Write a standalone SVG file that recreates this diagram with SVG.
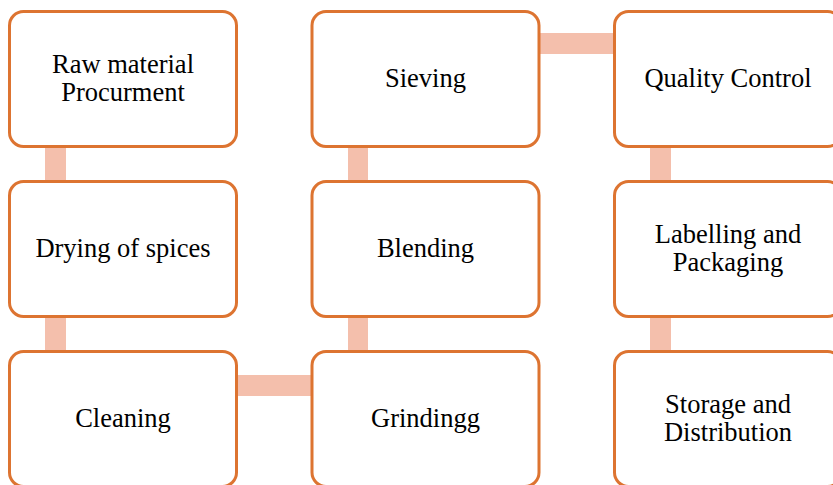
<svg xmlns="http://www.w3.org/2000/svg" width="833" height="485" viewBox="0 0 833 485">
<style>
.box{fill:#ffffff;stroke:#DD7431;stroke-width:3}
.conn{fill:#F4BFAC}
text{font-family:"Liberation Serif","Times New Roman",serif;font-size:26.5px;fill:#000;text-anchor:middle}
</style>
<rect width="833" height="485" fill="#ffffff"/>
<g id="connectors">
<rect class="conn" x="45" y="146" width="21" height="36"/>
<rect class="conn" x="45" y="316" width="21" height="36"/>
<rect class="conn" x="237" y="375" width="76" height="21"/>
<rect class="conn" x="348" y="316" width="20" height="36"/>
<rect class="conn" x="348" y="146" width="20" height="36"/>
<rect class="conn" x="539" y="33" width="76" height="21"/>
<rect class="conn" x="650" y="146" width="21" height="36"/>
<rect class="conn" x="650" y="316" width="21" height="36"/>
</g>
<g id="n1"><rect class="box" x="9.5" y="11.5" width="227" height="135" rx="14"/><text x="123" y="72.7">Raw material</text><text x="123" y="100.7">Procurment</text></g>
<g id="n2"><rect class="box" x="9.5" y="181.5" width="227" height="135" rx="14"/><text x="123" y="257.3">Drying of spices</text></g>
<g id="n3"><rect class="box" x="9.5" y="351.5" width="227" height="135" rx="14"/><text x="123" y="427.3">Cleaning</text></g>
<g id="n4"><rect class="box" x="312" y="351.5" width="227" height="135" rx="14"/><text x="425.5" y="427.3">Grindingg</text></g>
<g id="n5"><rect class="box" x="312" y="181.5" width="227" height="135" rx="14"/><text x="425.5" y="257.3">Blending</text></g>
<g id="n6"><rect class="box" x="312" y="11.5" width="227" height="135" rx="14"/><text x="425.5" y="87.3">Sieving</text></g>
<g id="n7"><rect class="box" x="614.5" y="11.5" width="227" height="135" rx="14"/><text x="728" y="87.3">Quality Control</text></g>
<g id="n8"><rect class="box" x="614.5" y="181.5" width="227" height="135" rx="14"/><text x="728" y="242.7">Labelling and</text><text x="728" y="270.7">Packaging</text></g>
<g id="n9"><rect class="box" x="614.5" y="351.5" width="227" height="135" rx="14"/><text x="728" y="412.7">Storage and</text><text x="728" y="440.7">Distribution</text></g>
</svg>
